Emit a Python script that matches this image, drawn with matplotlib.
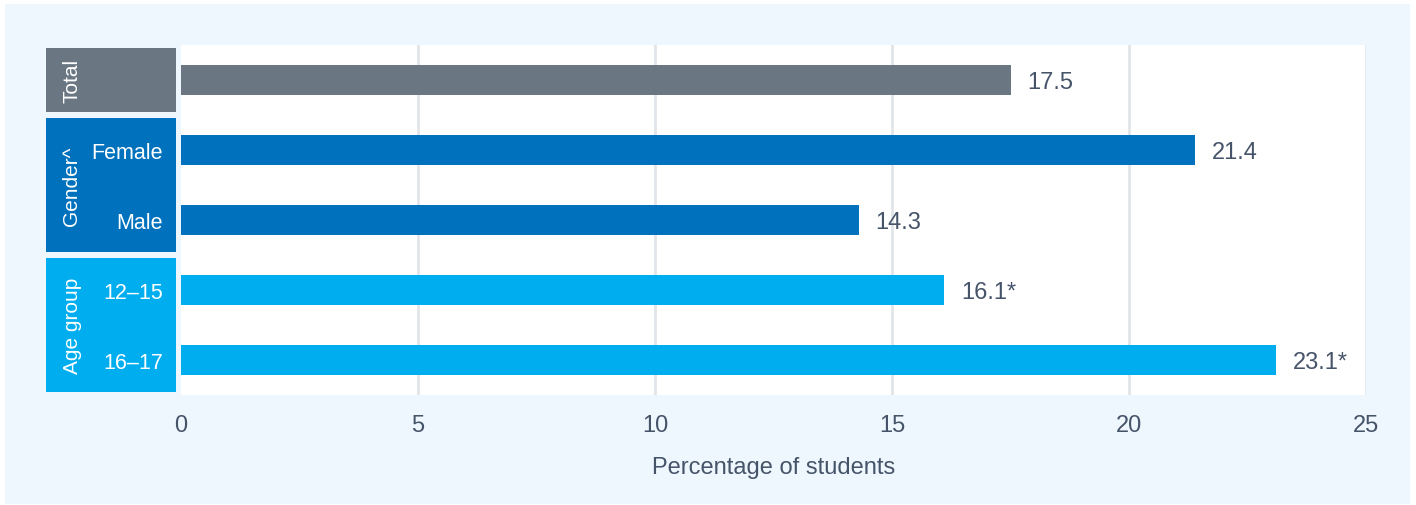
import matplotlib.pyplot as plt
import matplotlib
from matplotlib.patches import Rectangle

matplotlib.rcParams.update({
    'font.family': ['Liberation Sans', 'DejaVu Sans'],
    'font.size': 17,
})

# --- data ---
labels = ['', 'Female', 'Male', '12\u201315', '16\u201317']
values = [17.5, 21.4, 14.3, 16.1, 23.1]
value_text = ['17.5', '21.4', '14.3', '16.1*', '23.1*']
groups = ['Total', 'Gender^', 'Age group']
group_rows = [(0, 0), (1, 2), (3, 4)]
xticks = [0, 5, 10, 15, 20, 25]

# colours
c_total = '#6a7681'
c_gender = '#0071bc'
c_age = '#00aeef'
group_colors = [c_total, c_gender, c_age]
bar_colors = [c_total, c_gender, c_gender, c_age, c_age]
text_col = '#46546a'
panel_bg = '#eef7fd'
grid_col = '#e1e5ea'

W, H = 1416, 506
fig = plt.figure(figsize=(W / 100, H / 100), dpi=100)
fig.patch.set_facecolor('white')
fig.patches.append(Rectangle((5 / W, 1 - 505 / H), 1405 / W, 500 / H,
                             transform=fig.transFigure, facecolor=panel_bg,
                             edgecolor='none', zorder=-1))

# main bar axes
ax = fig.add_axes([181 / W, 1 - 396 / H, 1185 / W, 350 / H])
ax.set_facecolor('white')
ypos = list(range(len(values)))
ax.barh(ypos, values, height=0.43, color=bar_colors, zorder=3)
for y, v, t in zip(ypos, values, value_text):
    ax.annotate(t, (v, y), xytext=(12, 0), textcoords='offset points',
                ha='left', va='center_baseline', color=text_col, fontsize=17)

for x in xticks[1:]:
    ax.axvline(x, color=grid_col, lw=2, zorder=1)
ax.set_xlim(0, 25)
ax.set_ylim(len(values) - 0.5, -0.5)
ax.set_xticks(xticks)
ax.set_yticks([])
ax.tick_params(axis='x', length=0, pad=14, labelsize=17, labelcolor=text_col)
for s in ax.spines.values():
    s.set_visible(False)
ax.set_xlabel('Percentage of students', fontsize=17, color=text_col, labelpad=14)

# category label column
lax = fig.add_axes([46 / W, 1 - 396 / H, 130 / W, 350 / H])
lax.set_xlim(0, 1)
lax.set_ylim(len(values) - 0.5, -0.5)
lax.axis('off')
pad = 0.045
for name, (r0, r1), col in zip(groups, group_rows, group_colors):
    top = r0 - 0.5 + pad
    bot = r1 + 0.5 - pad
    lax.add_patch(Rectangle((0, top), 1, bot - top, facecolor=col,
                            edgecolor='none'))
    lax.text(0.2, (top + bot) / 2, name, rotation=90, ha='center',
             va='center', color='white', fontsize=15)
for y, lab in zip(ypos, labels):
    lax.text(0.9, y, lab, ha='right', va='center_baseline', color='white',
             fontsize=15.5)

fig.savefig('out.png', dpi=100, facecolor=fig.get_facecolor())
